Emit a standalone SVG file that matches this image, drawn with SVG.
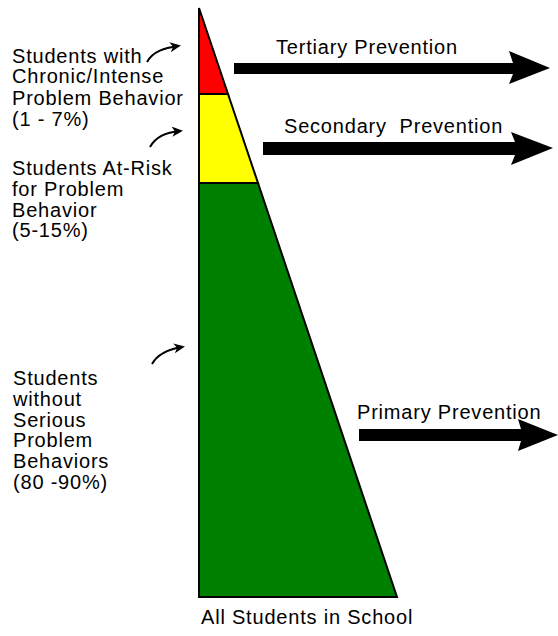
<svg xmlns="http://www.w3.org/2000/svg" width="558" height="636" viewBox="0 0 558 636">
<style>
text{font-family:"Liberation Sans",Arial,sans-serif;font-size:20px;letter-spacing:0.8px;fill:#000}
.tier{stroke:#000;stroke-width:2;stroke-linejoin:miter}
.block{fill:#000}
.curl{fill:none;stroke:#000;stroke-width:2}
</style>
<defs>
<marker id="ah" markerWidth="11" markerHeight="10" refX="8" refY="5" orient="auto" markerUnits="userSpaceOnUse" viewBox="0 0 11 10">
<path d="M0,0 L11,5 L0,10 L3,5 Z" fill="#000"/>
</marker>
</defs>
<rect width="558" height="636" fill="#fff"/>
<g id="tier-primary"><polygon class="tier" points="199,183 258,183 397,597 199,597" fill="#008000"/></g>
<g id="tier-secondary"><polygon class="tier" points="199,94 228,94 258,183 199,183" fill="#ffff00"/></g>
<g id="tier-tertiary"><polygon class="tier" points="199,8 228,94 199,94" fill="#ff0000"/></g>
<g id="label-tertiary">
<text x="12" y="63">Students with</text>
<text x="12" y="83">Chronic/Intense</text>
<text x="12" y="105">Problem Behavior</text>
<text x="12" y="126">(1 - 7%)</text>
</g>
<g id="label-secondary">
<text x="12" y="175">Students At-Risk</text>
<text x="12" y="196">for Problem</text>
<text x="12" y="217">Behavior</text>
<text x="12" y="237">(5-15%)</text>
</g>
<g id="label-primary">
<text x="13" y="385">Students</text>
<text x="13" y="406">without</text>
<text x="13" y="427">Serious</text>
<text x="13" y="447">Problem</text>
<text x="13" y="468">Behaviors</text>
<text x="13" y="489">(80 -90%)</text>
</g>
<g id="label-all"><text x="201" y="624">All Students in School</text></g>
<g id="connectors">
<path class="curl" d="M147,62 C153,51 165,48 178,46" marker-end="url(#ah)"/>
<path class="curl" d="M150,147 C156,136 168,132 180,131" marker-end="url(#ah)"/>
<path class="curl" d="M152,364 C158,353 170,349 182,347" marker-end="url(#ah)"/>
<polygon class="block" points="234,63 513,63 509,51 550,68 509,84 513,74 234,74"/>
<polygon class="block" points="263,142 515,142 511,132 553,148 511,165 515,155 263,155"/>
<polygon class="block" points="359,429 521,429 518,419 558,435 518,451 521,441 359,441"/>
</g>
<g id="prevention-labels">
<text x="276" y="54">Tertiary Prevention</text>
<text x="284" y="133" xml:space="preserve">Secondary  Prevention</text>
<text x="357" y="419">Primary Prevention</text>
</g>
</svg>
